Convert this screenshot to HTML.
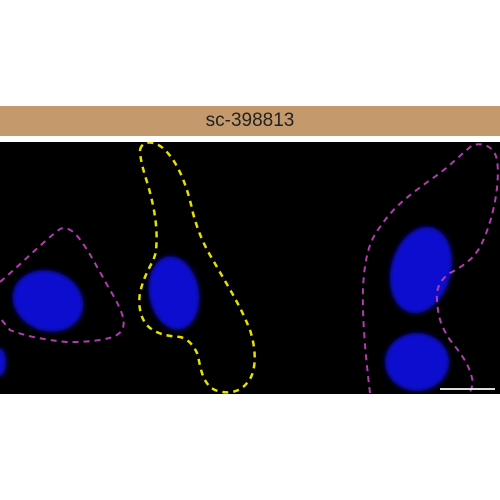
<!DOCTYPE html>
<html><head><style>
body{margin:0;width:500px;height:500px;background:#fff;position:relative;overflow:hidden;font-family:"Liberation Sans",sans-serif}
#banner{position:absolute;left:0;top:106px;width:500px;height:30px;background:#c49a6c;color:#222;font-size:19px;text-align:center;line-height:30px}
#img{position:absolute;left:0;top:142px}
</style></head><body>
<div id="banner">sc-398813</div>
<svg id="img" width="500" height="252" viewBox="0 142 500 252">
<defs><filter id="b"><feGaussianBlur stdDeviation="2"/></filter></defs>
<rect x="0" y="142" width="500" height="252" fill="#000"/>
<g fill="#1010d0" filter="url(#b)">
<ellipse cx="48" cy="301" rx="36" ry="30" transform="rotate(20 48 301)"/>
<ellipse cx="174" cy="293" rx="25" ry="37" transform="rotate(-10 174 293)"/>
<ellipse cx="421" cy="270" rx="30" ry="44" transform="rotate(15 421 270)"/>
<ellipse cx="417" cy="362" rx="32" ry="29"/>
<ellipse cx="0" cy="362" rx="6" ry="14"/>
</g>
<g fill="none" stroke-width="2" stroke-dasharray="6,5">
<path stroke="#b23cb2" d="M0,282 C20,265 45,240 60,229 C75,222 90,255 110,290 C125,315 130,330 113,337 C95,342 80,342 67,342 C45,340 25,336 10,330 L0,318"/>
<path stroke="#e6e000" stroke-width="2.5" d="M140,150 C142,140 155,140 165,150 C180,165 188,190 193,213 C200,240 210,255 217,267 C230,290 240,305 250,330 C258,355 255,375 247,383 C240,392 228,395 215,390 C200,383 200,360 197,353 C192,342 185,338 180,337 C168,336 160,335 150,328 C140,320 138,305 140,293 C145,270 155,262 156,250 C158,230 155,210 148,185 C143,170 140,158 140,150"/>
<path stroke="#b23cb2" d="M370,393 C366,360 362,320 363,287 C365,255 370,240 380,227 C395,205 410,195 430,180 C450,167 465,150 473,145 C485,142 495,148 497,160 C500,180 495,215 482,243 C475,258 465,265 450,273 C440,280 436,288 437,300 C438,315 440,325 450,340 C462,355 470,365 473,383 L470,393"/>
</g>
<rect x="440" y="388" width="55" height="2" fill="#ddd"/>
</svg>
</body></html>
